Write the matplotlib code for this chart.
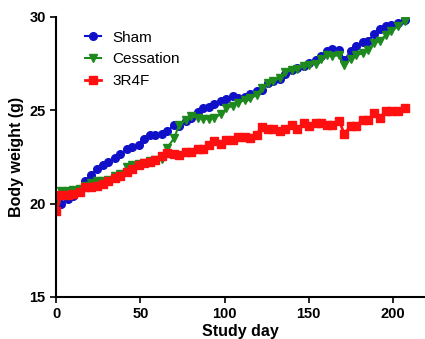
import matplotlib
matplotlib.use('Agg')
import matplotlib.pyplot as plt

plt.rcParams['font.family'] = ['Liberation Sans', 'DejaVu Sans']

days = [0, 3, 7, 10, 14, 17, 21, 24, 28, 31, 35, 38, 42, 45, 49, 52, 56, 59, 63, 66,
        70, 73, 77, 80, 84, 87, 91, 94, 98, 101, 105, 108, 112, 115, 119, 122, 126, 129, 133, 136,
        140, 143, 147, 150, 154, 157, 161, 164, 168, 171, 175, 178, 182, 185, 189, 192, 196, 199, 203, 207]

sham = [19.8, 20.0, 20.25, 20.4, 20.8, 21.2, 21.55, 21.85, 22.05, 22.25,
        22.45, 22.65, 22.9, 23.05, 23.15, 23.45, 23.65, 23.7, 23.75, 23.9,
        24.2, 24.15, 24.4, 24.6, 24.9, 25.1, 25.2, 25.35, 25.5, 25.6,
        25.75, 25.65, 25.7, 25.85, 26.05, 26.1, 26.45, 26.55, 26.7, 26.95,
        27.15, 27.25, 27.35, 27.55, 27.7, 27.9, 28.15, 28.3, 28.25, 27.7,
        28.15, 28.45, 28.65, 28.7, 29.1, 29.35, 29.5, 29.55, 29.7, 29.85]

cessation = [19.9, 20.65, 20.7, 20.72, 20.8, 20.95, 21.1, 21.2, 21.2, 21.25,
             21.5, 21.6, 21.95, 22.05, 22.1, 22.2, 22.3, 22.35, 22.4, 23.0,
             23.5, 24.2, 24.5, 24.7, 24.6, 24.55, 24.55, 24.6, 24.8, 25.1,
             25.25, 25.4, 25.55, 25.65, 25.8, 26.2, 26.45, 26.55, 26.75, 27.05,
             27.15, 27.2, 27.35, 27.45, 27.5, 27.75, 27.95, 27.9, 27.95, 27.4,
             27.75, 27.95, 28.05, 28.25, 28.6, 28.7, 29.05, 29.25, 29.5, 29.8]

r3r4f = [19.6, 20.45, 20.45, 20.5, 20.6, 20.9, 20.9, 20.95, 21.05, 21.2,
         21.35, 21.5, 21.7, 21.85, 22.05, 22.15, 22.25, 22.35, 22.55, 22.7,
         22.65, 22.6, 22.75, 22.75, 22.9, 22.95, 23.15, 23.35, 23.2, 23.4,
         23.4, 23.55, 23.55, 23.5, 23.7, 24.1, 24.0, 24.0, 23.9, 24.0,
         24.2, 24.0, 24.3, 24.15, 24.3, 24.3, 24.2, 24.2, 24.45, 23.75,
         24.15, 24.15, 24.5, 24.5, 24.85, 24.6, 24.95, 24.95, 24.95, 25.1]

fig = plt.figure(figsize=(4.25, 3.39), dpi=100)
ax = fig.add_axes([0.132, 0.124, 0.868, 0.826])

ax.plot(days, sham, '-o', color='#1010c8', ms=5.5, lw=1.5, label='Sham')
ax.plot(days, cessation, '-v', color='#1e8a1e', ms=5.5, lw=1.5, label='Cessation')
ax.plot(days, r3r4f, '-s', color='#ff1010', ms=5.5, lw=2, label='3R4F')

ax.set_xlim(0, 219)
ax.set_ylim(15, 30)
ax.set_xticks([0, 50, 100, 150, 200])
ax.set_yticks([15, 20, 25, 30])
for s in ['top', 'right']:
    ax.spines[s].set_visible(False)
for s in ['left', 'bottom']:
    ax.spines[s].set_linewidth(1.5)
ax.tick_params(direction='out', length=4, width=1.2, labelsize=10.5)
for lab in ax.get_xticklabels() + ax.get_yticklabels():
    lab.set_fontweight('bold')

ax.set_xlabel('Study day', fontsize=11.5, fontweight='bold', labelpad=2)
ax.set_ylabel('Body weight (g)', fontsize=11.5, fontweight='bold', labelpad=4)

ax.legend(loc='upper left', bbox_to_anchor=(0.04, 1.0), frameon=False, fontsize=11,
          handlelength=1.1, handletextpad=0.7, labelspacing=0.5)

fig.savefig('out.png', dpi=100)
